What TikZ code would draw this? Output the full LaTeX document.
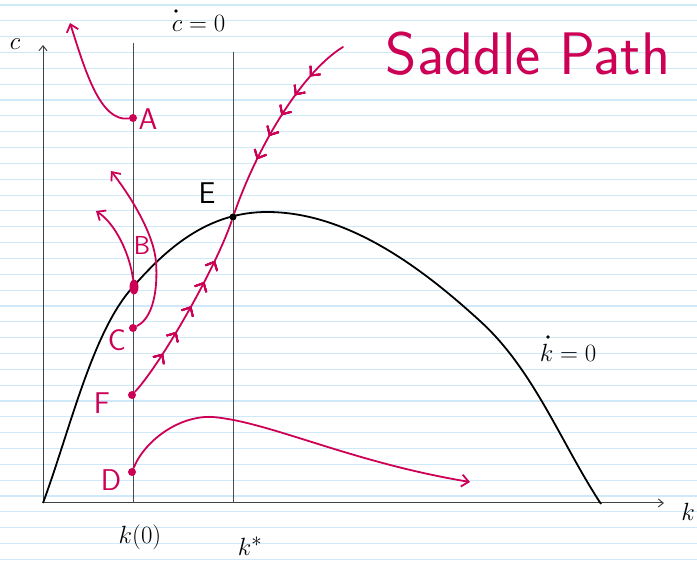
\documentclass[tikz,border=0pt]{standalone}
\usepackage{amsmath,amssymb}
\usepackage{tikz}
\usetikzlibrary{arrows.meta,decorations.markings,shapes.geometric}

\definecolor{ink}{RGB}{204,0,85}
\definecolor{rule}{RGB}{208,233,248}

\tikzset{
  axis/.style={draw=black!75, line width=1pt, -{Straight Barb[length=5pt,width=8pt]}},
  guide/.style={draw=black!70, line width=0.9pt},
  inkpath/.style={draw=ink, line width=1.8pt, line cap=round},
  inktip/.style={-{Straight Barb[length=7pt,width=12pt]}},
  inkdot/.style={circle, fill=ink, inner sep=0pt, minimum size=8pt},
  tag/.style={text=ink, font=\sffamily\fontsize{30}{30}\selectfont},
  mathtag/.style={font=\fontsize{28}{28}\selectfont},
  flow/.style={postaction={decorate}, decoration={markings,
      mark=at position #1 with {\arrow{Straight Barb[length=7pt,width=13pt]}}}},
}

\begin{document}
\begin{tikzpicture}[x=1pt, y=-1pt, line width=0.9pt]
  \useasboundingbox (0,0) rectangle (697,569);

  % ruled paper
  \foreach \n in {0,...,35}
    \draw[rule, line width=1.1pt] (0,5+15.84*\n) -- (697,5+15.84*\n);

  \coordinate (o) at (43,503);
  \coordinate (ctop) at (43,45);
  \coordinate (kend) at (664,503);
  \coordinate (k0top) at (133,43);
  \coordinate (k0bot) at (133,503);
  \coordinate (kstop) at (233,52);
  \coordinate (ksbot) at (233,503);

  % axes and the two vertical lines
  \draw[axis] (o) -- (ctop);
  \draw[axis] (o) -- (kend);
  \draw[guide] (k0top) -- (k0bot);
  \draw[guide] (kstop) -- (ksbot);

  \node[mathtag] (clab) at (15,44) {$c$};
  \node[mathtag] (klab) at (688,512) {$k$};
  \node[mathtag, anchor=base west] (cdot0) at (168,32) {$c=0$};
  \fill (cdot0.base west) ++(8,-21) circle (1.8pt);
  \node[mathtag, anchor=base west] (kdot0) at (536,362) {$k=0$};
  \fill (kdot0.base west) ++(12,-25) circle (1.8pt);
  \node[mathtag] (kzero) at (140,537) {$k(0)$};
  \node[mathtag] (kstar) at (250,546) {$k^{*}$};

  % kdot = 0 locus
  \coordinate (peak) at (267,212);
  \coordinate (kmax) at (601,504);
  \draw[line width=1.8pt] (o) .. controls (70,430) and (92,333) .. (132,288)
    .. controls (166,249) and (207,212) .. (peak)
    .. controls (347,212) and (421,267) .. (480,321)
    .. controls (534,370) and (561,443) .. (kmax);

  % points
  \node[inkdot] (adot) at (133,118) {};
  \node[inkdot, minimum width=9pt, minimum height=15pt, ellipse] (bdot) at (134,287) {};
  \node[inkdot] (cdot) at (133,328) {};
  \node[inkdot] (fdot) at (132,395) {};
  \node[inkdot] (ddot) at (132,472) {};
  \node[circle, fill=black, inner sep=0pt, minimum size=7pt] (E) at (233,217) {};

  \node[tag] (alab) at (148,119) {A};
  \node[tag, font=\sffamily\fontsize{26}{26}\selectfont] (blab) at (142,245) {B};
  \node[tag] (clab2) at (117,340) {C};
  \node[tag] (flab) at (102,403) {F};
  \node[tag] (dlab) at (111,480) {D};
  \node[font=\sffamily\fontsize{30}{30}\selectfont] (elab) at (207,193) {E};

  \node[tag, font=\sffamily\fontsize{60}{60}\selectfont] (saddle) at (528,54) {Saddle Path};

  \coordinate (aend) at (70,23);
  \coordinate (bend) at (96,211);
  \coordinate (cend) at (111,171);
  \coordinate (dend) at (470,482);
  \coordinate (sadtop) at (343,47);

  % paths off the saddle path
  \draw[inkpath, inktip] (adot) .. controls (100,122) and (85,70) .. (aend);
  \draw[inkpath, inktip] (bdot) .. controls (130,255) and (116,224) .. (bend);
  \draw[inkpath, inktip] (cdot) .. controls (153,318) and (158,290) .. (156,262)
    .. controls (154,235) and (132,198) .. (cend);
  \draw[inkpath, inktip] (ddot) .. controls (145,440) and (180,415) .. (213,417)
    .. controls (270,422) and (350,462) .. (dend);

  % saddle path, arrows towards E
  \draw[inkpath, flow=0.24, flow=0.37, flow=0.52, flow=0.66, flow=0.78]
    (fdot) .. controls (160,365) and (215,270) .. (E);
  \draw[inkpath, flow=0.22, flow=0.34, flow=0.46, flow=0.58, flow=0.71]
    (sadtop) .. controls (305,70) and (260,140) .. (E);
\end{tikzpicture}
\end{document}
